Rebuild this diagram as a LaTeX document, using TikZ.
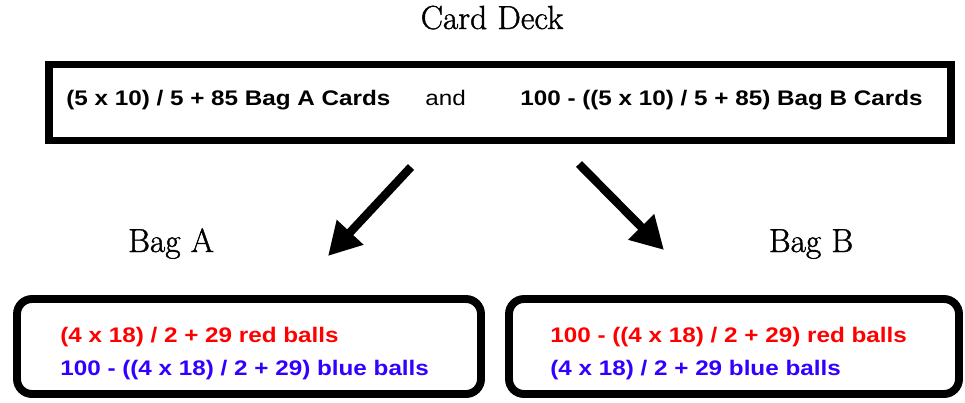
\documentclass[tikz,border=0pt]{standalone}
\usepackage{fontspec}
\usetikzlibrary{arrows.meta}

\newfontfamily\boxfont[FakeStretch=1.15]{Liberation Sans}
\newfontfamily\labelfont[FakeBold=1.2]{Latin Modern Roman}
\definecolor{ballred}{RGB}{255,0,0}
\definecolor{ballblue}{RGB}{51,0,255}

\begin{document}
\begin{tikzpicture}[
        every node/.style={inner sep=0pt},
        title/.style={font=\labelfont\fontsize{19}{22}\selectfont, anchor=base},
        deckbox/.style={rectangle, draw=black, line width=4.3pt, fill=white, minimum width=18.04cm, minimum height=1.52cm},
        bagbox/.style={rectangle, draw=black, line width=4.5pt, fill=white, rounded corners=0.3cm, minimum height=1.9cm},
        cardtext/.style={font=\boxfont\fontsize{12}{14}\selectfont\bfseries, anchor=base west},
        balltext/.style={font=\boxfont\fontsize{12}{14}\selectfont\bfseries, anchor=base west},
        arrow/.style={-{Triangle[length=18.5pt, width=19.5pt]}, line width=4.8pt, draw=black}
        ]
        \useasboundingbox (0, 0) rectangle (19.3, -8.04);

        % Card deck
        \node[title] (decktitle) at (9.84, -0.58) {Card Deck};
        \node[deckbox] (deck) at (10.0, -2.05) {};
        \node[cardtext] (cardsA) at (1.32, -2.10) {(5 x 10) / 5 + 85 Bag A Cards};
        \node[cardtext, font=\boxfont\fontsize{12}{14}\selectfont] (cardsand) at (8.5, -2.10) {and};
        \node[cardtext] (cardsB) at (10.4, -2.10) {100 - ((5 x 10) / 5 + 85) Bag B Cards};

        % Arrow ends
        \coordinate (la) at (8.22, -3.34);
        \coordinate (lb) at (6.56, -5.12);
        \coordinate (ra) at (11.58, -3.28);
        \coordinate (rb) at (13.28, -5.00);

        \draw[arrow] (la) -- (lb);
        \draw[arrow] (ra) -- (rb);

        % Bags
        \node[title] (bagAtitle) at (3.42, -5.04) {Bag A};
        \node[title] (bagBtitle) at (16.22, -5.04) {Bag B};

        \node[bagbox, minimum width=9.28cm] (bagA) at (4.98, -6.93) {};
        \node[bagbox, minimum width=9.0cm] (bagB) at (14.68, -6.93) {};

        \node[balltext, text=ballred] (redA) at (1.2, -6.84) {(4 x 18) / 2 + 29 red balls};
        \node[balltext, text=ballblue] (blueA) at (1.2, -7.50) {100 - ((4 x 18) / 2 + 29) blue balls};
        \node[balltext, text=ballred] (redB) at (11.0, -6.84) {100 - ((4 x 18) / 2 + 29) red balls};
        \node[balltext, text=ballblue] (blueB) at (11.0, -7.50) {(4 x 18) / 2 + 29 blue balls};

    \end{tikzpicture}
\end{document}
